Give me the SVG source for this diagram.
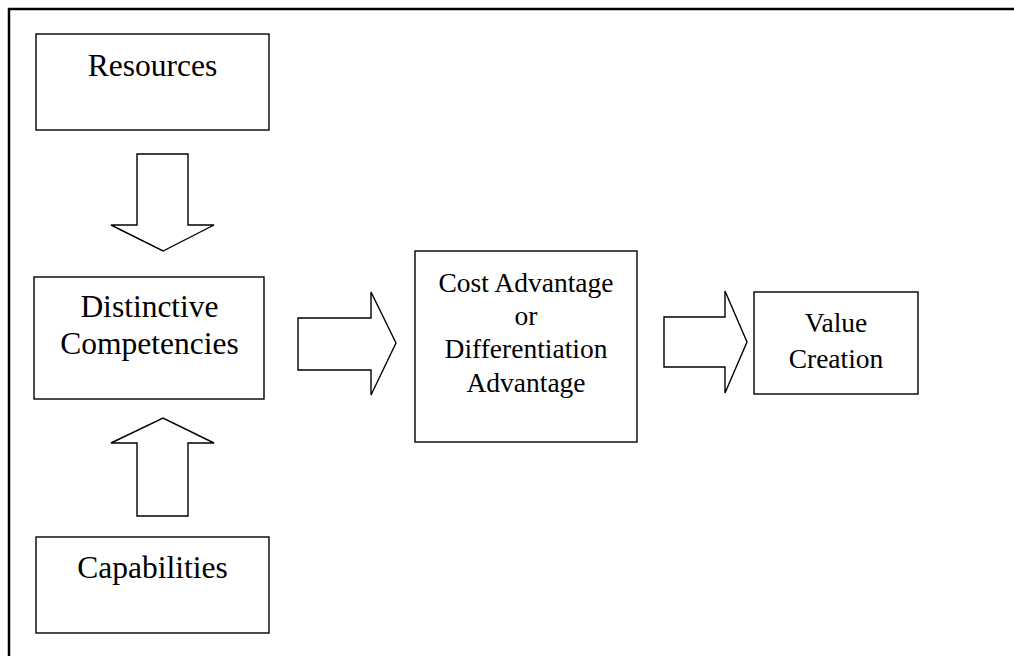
<svg xmlns="http://www.w3.org/2000/svg" width="1014" height="656" viewBox="0 0 1014 656">
  <style>
    .box { fill: #ffffff; stroke: #000000; stroke-width: 1.4; }
    .arrow { fill: #ffffff; stroke: #000000; stroke-width: 1.4; stroke-linejoin: miter; }
    .label { font-family: "Liberation Serif", "Times New Roman", serif; fill: #000000; text-anchor: middle; }
    .big { font-size: 31.5px; }
    .small { font-size: 27.5px; }
  </style>
  <rect width="1014" height="656" fill="#ffffff"/>
  <!-- outer frame, running off the right and bottom edges -->
  <rect x="9" y="9" width="1020" height="660" fill="none" stroke="#000000" stroke-width="2.5"/>

  <g id="resources">
    <rect class="box" x="36" y="34" width="233" height="96"/>
    <text class="label big" x="152.5" y="76">Resources</text>
  </g>

  <g id="distinctive-competencies">
    <rect class="box" x="34" y="277" width="230" height="122"/>
    <text class="label big" x="149.5" y="317">Distinctive</text>
    <text class="label big" x="149.5" y="354">Competencies</text>
  </g>

  <g id="capabilities">
    <rect class="box" x="36" y="537" width="233" height="96"/>
    <text class="label big" x="152.5" y="578">Capabilities</text>
  </g>

  <g id="advantage">
    <rect class="box" x="415" y="251" width="222" height="191"/>
    <text class="label small" x="526" y="292">Cost Advantage</text>
    <text class="label small" x="526" y="325">or</text>
    <text class="label small" x="526" y="358">Differentiation</text>
    <text class="label small" x="526" y="392">Advantage</text>
  </g>

  <g id="value-creation">
    <rect class="box" x="754" y="292" width="164" height="102"/>
    <text class="label small" x="836" y="332">Value</text>
    <text class="label small" x="836" y="368">Creation</text>
  </g>

  <g id="connectors">
    <!-- block arrow: Resources down to Distinctive Competencies -->
    <polygon class="arrow" points="137,154 188,154 188,225 214,225 163,251 111,225 137,225"/>
    <!-- block arrow: Capabilities up to Distinctive Competencies -->
    <polygon class="arrow" points="137,516 188,516 188,443 214,443 163,418 111,443 137,443"/>
    <!-- block arrow: Distinctive Competencies to Advantage -->
    <polygon class="arrow" points="298,318 371,318 371,292 396,343 371,395 371,370 298,370"/>
    <!-- block arrow: Advantage to Value Creation -->
    <polygon class="arrow" points="664,317 725,317 725,291 747,342 725,393 725,367 664,367"/>
  </g>
</svg>
